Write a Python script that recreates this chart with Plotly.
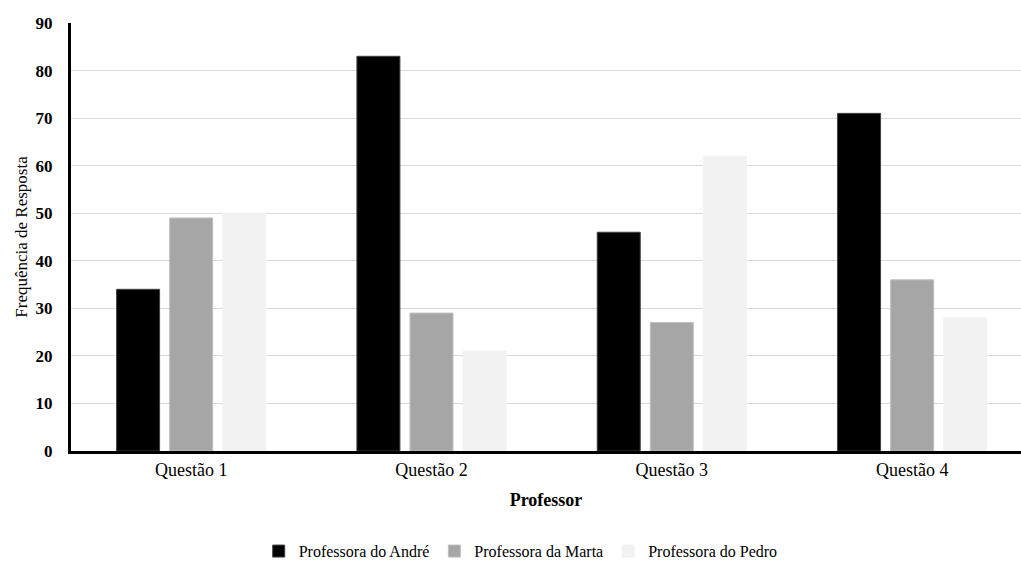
import plotly.graph_objects as go

questoes = ["Questão 1", "Questão 2", "Questão 3", "Questão 4"]
andre = [34, 83, 46, 71]
marta = [49, 29, 27, 36]
pedro = [50, 21, 62, 28]

serie_nomes = ["Professora do André", "Professora da Marta", "Professora do Pedro"]
cores = ["#000000", "#a6a6a6", "#f2f2f2"]
contornos = ["#404040", "#bfbfbf", "#f2f2f2"]
y_ticks = list(range(0, 91, 10))

fonte = "Liberation Serif, Times New Roman, serif"

fig = go.Figure()
for nome, valores, cor, contorno in zip(serie_nomes, [andre, marta, pedro], cores, contornos):
    fig.add_trace(go.Bar(
        x=questoes, y=valores, name=nome,
        marker=dict(color=cor, line=dict(color=contorno, width=1)),
    ))

fig.update_layout(
    width=1021, height=563,
    margin=dict(l=71, r=0, t=23, b=112, autoexpand=False),
    paper_bgcolor="white", plot_bgcolor="white",
    barmode="group", bargap=0.3375, bargroupgap=0.19,
    font=dict(family=fonte, color="#000000", size=16),
    showlegend=True,
    legend=dict(
        orientation="h", xref="container", x=0.51, xanchor="center",
        yref="container", y=0.021, yanchor="middle",
        font=dict(family=fonte, size=16), traceorder="normal",
        itemwidth=30,
    ),
    xaxis=dict(
        type="category", range=[-0.5, 3.453],
        showgrid=False, showline=True, linecolor="#000000", linewidth=3,
        ticks="", tickfont=dict(family=fonte, size=18),
        title=dict(text="<b>Professor</b>", font=dict(family=fonte, size=18), standoff=15),
        automargin=False,
    ),
    yaxis=dict(
        range=[0, 90], tickvals=y_ticks,
        showgrid=True, gridcolor="#d9d9d9", gridwidth=1,
        showline=True, linecolor="#000000", linewidth=3,
        ticks="", ticklabelstandoff=12,
        tickfont=dict(family=fonte, size=17, weight="bold"),
        zeroline=False, automargin=False,
        title=dict(text="Frequência de Resposta", font=dict(family=fonte, size=17), standoff=4),
    ),
)

fig.write_html("out.html")
